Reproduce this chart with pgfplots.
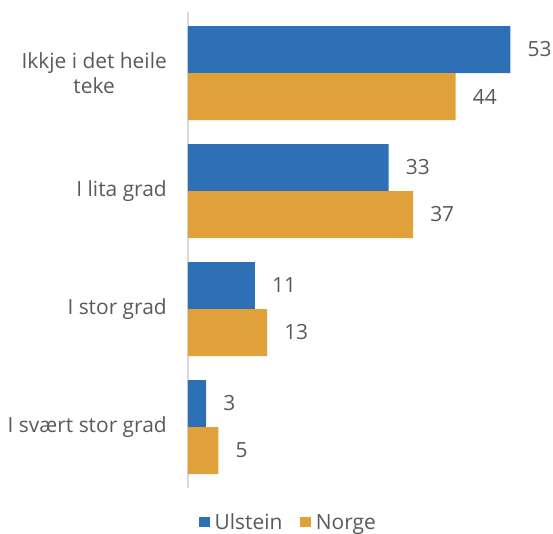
\documentclass[border=0pt]{standalone}
\usepackage{pgfplots}
\pgfplotsset{compat=1.18}
\usepackage{fontspec}
\setmainfont{Open Sans}
\definecolor{ublue}{RGB}{46,112,182}
\definecolor{norange}{RGB}{224,160,58}
\definecolor{txt}{RGB}{89,89,89}
\definecolor{axgray}{RGB}{217,217,217}
\begin{document}
\begin{tikzpicture}
\useasboundingbox (-188bp,-46bp) rectangle (365bp,488bp);
\begin{axis}[
  scale only axis,
  width=365bp, height=476bp,
  xmin=0, xmax=60,
  ymin=-0.517, ymax=3.517,
  y dir=reverse,
  xbar, bar width=47bp,
  axis x line=none,
  axis y line*=left,
  y axis line style={axgray, line width=1.5bp, -},
  ytick={0,1,2,3},
  yticklabels={{Ikkje i det heile\\teke},{I lita grad},{I stor grad},{I svært stor grad}},
  major tick length=0pt,
  yticklabel style={align=center, font=\fontsize{21}{25}\selectfont, text=txt, inner sep=0pt, xshift=-21bp},
  /pgf/number format/assume math mode=true,
  nodes near coords,
  every node near coord/.append style={font=\fontsize{21}{24}\selectfont, text=txt, anchor=west, inner sep=0pt, xshift=17bp},
  legend style={at={(0.022,-0.045)}, anchor=north west, draw=none, font=\fontsize{21}{24}\selectfont, text=txt, legend columns=-1,
    /tikz/every odd column/.append style={column sep=3bp},
    /tikz/every even column/.append style={column sep=16bp}},
  legend image code/.code={\fill[#1] (0bp,-5bp) rectangle (10.5bp,5.5bp);},
  clip=false,
]
\addplot[fill=ublue, draw=none, bar shift=23.5bp] coordinates {(53,0) (33,1) (11,2) (3,3)};
\addplot[fill=norange, draw=none, bar shift=-23.5bp] coordinates {(44,0) (37,1) (13,2) (5,3)};
\legend{Ulstein, Norge}
\end{axis}
\end{tikzpicture}
\end{document}
